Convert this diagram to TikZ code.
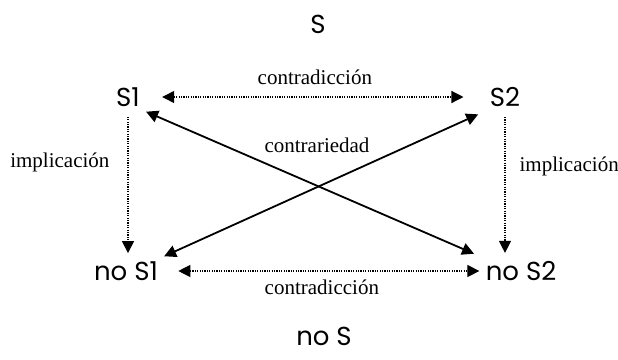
\documentclass[tikz,border=0pt]{standalone}
\usepackage{fontspec}
\setmainfont{Liberation Serif}
\newfontfamily\gothic{Poppins}
\usetikzlibrary{arrows.meta}

\begin{document}
\begin{tikzpicture}[x=0.5pt,y=-0.5pt,
            every node/.append style={black},
            term/.style={font=\gothic\fontsize{13}{15}\selectfont,inner sep=2pt},
            rel/.style={font=\fontsize{10.5}{12}\selectfont,inner sep=1pt},
            head/.style={-{Triangle[length=6pt,width=6pt]}},
            both/.style={{Triangle[length=6pt,width=6pt]}-{Triangle[length=6pt,width=6pt]}},
            dots/.style={line width=0.6pt,dash pattern=on 0.6pt off 0.6pt}
        ]
            \useasboundingbox (0,0) rectangle (618,360);
            % the four terms of the square
            \node[term] (S) at (318,24) {S};
            \node[term] (S1) at (128,97) {S1};
            \node[term] (S2) at (505,97) {S2};
            \node[term] (noS1) at (126,271) {no S1};
            \node[term] (noS2) at (521,271) {no S2};
            \node[term] (noS) at (324,336) {no S};
            % contradiccion
            \draw[both,dots,shorten <=9pt,shorten >=11pt] (S1.east) -- (S2.west)
                node[rel,midway,above=5pt] (ctop) {contradicción};
            \draw[both,dots,shorten <=8pt,shorten >=1pt] (noS1.east) -- (noS2.west)
                node[rel,midway,below=3pt] (cbot) {contradicción};
            % implicacion
            \draw[head,dots,shorten <=3pt,shorten >=2pt] (S1.south) -- (S1.south |- noS1.north)
                node[rel,pos=.35,left=8pt] (ileft) {implicación};
            \draw[head,dots,shorten <=3pt,shorten >=2pt] (S2.south) -- (S2.south |- noS2.north)
                node[rel,pos=.38,right=6pt] (iright) {implicación};
            % contrariedad
            \draw[both,line width=0.9pt,shorten <=1pt,shorten >=4pt] (S1.south east) -- (noS2.north west);
            \draw[both,line width=0.9pt,shorten <=4pt,shorten >=1pt] (S2.south west) -- (noS1.north east);
            \node[rel] (contr) at (317,145) {contrariedad};
        \end{tikzpicture}
\end{document}
